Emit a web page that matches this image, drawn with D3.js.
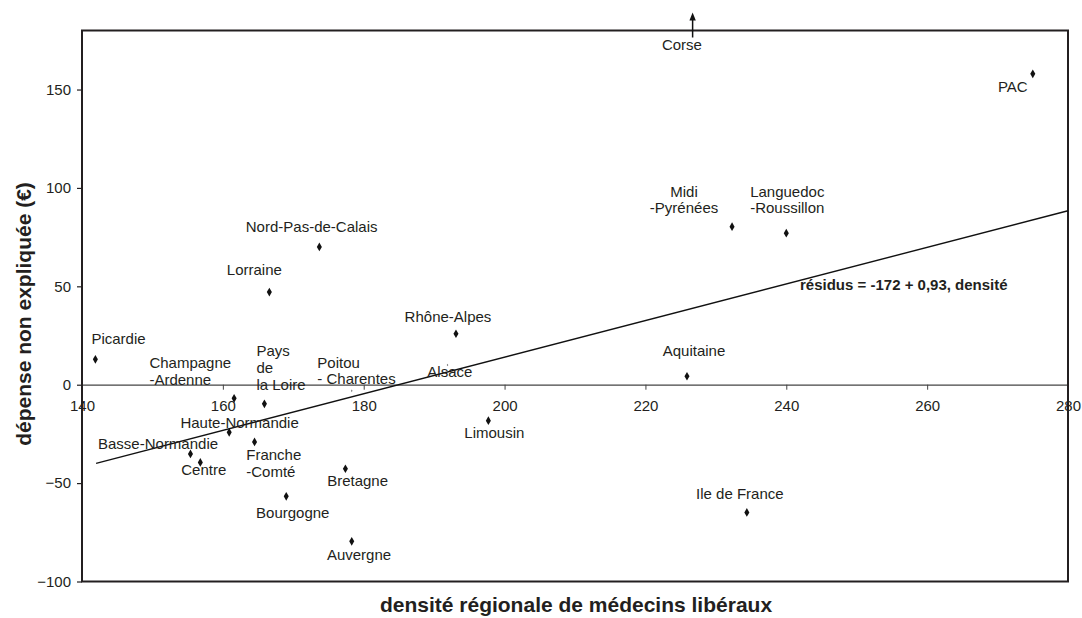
<!DOCTYPE html>
<html>
<head>
<meta charset="utf-8">
<script src="https://cdn.jsdelivr.net/npm/d3@7"></script>
<style>
  html, body { margin: 0; padding: 0; background: #ffffff; }
  svg { display: block; font-family: "Liberation Sans", Arial, Helvetica, sans-serif; }
</style>
</head>
<body>
<svg id="chart" width="1082" height="618"></svg>
<script>
// ---------------- DATA ----------------
const regions = [
  "Picardie", "Champagne-Ardenne", "Pays de la Loire", "Nord-Pas-de-Calais", "Lorraine",
  "Poitou-Charentes", "Alsace", "Rhône-Alpes", "Aquitaine", "Midi-Pyrénées",
  "Languedoc-Roussillon", "PAC", "Corse", "Haute-Normandie", "Basse-Normandie",
  "Centre", "Franche-Comté", "Bretagne", "Bourgogne", "Auvergne", "Limousin", "Ile de France"
];
// densité régionale de médecins libéraux
const densite = [
  141.9, 161.6, 165.9, 173.7, 166.6,
  178.3, 191.9, 193.1, 225.9, 232.3,
  240.0, 275.0, 226.7, 160.9, 155.4,
  156.8, 164.5, 177.4, 169.0, 178.3, 197.7, 234.4
];
// dépense non expliquée (€)  (Corse is off the top of the chart)
const depense = [
  12.9, -6.9, -9.7, 70.0, 47.1,
  -3.1, 10.0, 25.9, 4.3, 80.3,
  77.0, 158.0, 200, -24.2, -35.2,
  -39.5, -29.1, -42.7, -56.7, -79.6, -18.3, -64.9
];
// text of each label (one entry per line)
const labelText = [
  ["Picardie"], ["Champagne", "-Ardenne"], ["Pays", "de", "la Loire"], ["Nord-Pas-de-Calais"], ["Lorraine"],
  ["Poitou", "- Charentes"], ["Alsace"], ["Rhône-Alpes"], ["Aquitaine"], ["Midi", "-Pyrénées"],
  ["Languedoc", "-Roussillon"], ["PAC"], ["Corse"], ["Haute-Normandie"], ["Basse-Normandie"],
  ["Centre"], ["Franche", "-Comté"], ["Bretagne"], ["Bourgogne"], ["Auvergne"], ["Limousin"], ["Ile de France"]
];
const xTicks = [140, 160, 180, 200, 220, 240, 260, 280];
const yTicks = [-100, -50, 0, 50, 100, 150];
const xDomain = [140, 280];
const yDomain = [-100, 180];
const regIntercept = -172;
const regSlope = 0.93;
const regFrom = 142;
const regTo = 280;
const regLabel = "résidus = -172 + 0,93, densité";
const xTitle = "densité régionale de médecins libéraux";
const yTitle = "dépense non expliquée (€)";

// ---------------- LAYOUT (label placement relative to point) ----------------
const labelLayout = {
  "Picardie":            { dx: -4,    dy: -15.3, anchor: "start" },
  "Champagne-Ardenne":   { dx: -84.7, dy: -30,   anchor: "start" },
  "Pays de la Loire":    { dx: -8,    dy: -47.7, anchor: "start" },
  "Nord-Pas-de-Calais":  { dx: -7.7,  dy: -14.7, anchor: "middle" },
  "Lorraine":            { dx: -15,   dy: -17,   anchor: "middle" },
  "Poitou-Charentes":    { dx: -34.4, dy: -23.2, anchor: "start" },
  "Alsace":              { dx: 2.3,   dy: 12.3,  anchor: "middle" },
  "Rhône-Alpes":         { dx: -8,    dy: -12,   anchor: "middle" },
  "Aquitaine":           { dx: 7,     dy: -20.3, anchor: "middle" },
  "Midi-Pyrénées":       { dx: -48,   dy: -30,   anchor: "middle" },
  "Languedoc-Roussillon":{ dx: 1,     dy: -36.6, anchor: "middle" },
  "PAC":                 { dx: -20,   dy: 18.7,  anchor: "middle" },
  "Corse":               { dx: -10.7, dy: 19.5,  anchor: "middle" },
  "Haute-Normandie":     { dx: 10.4,  dy: -4,    anchor: "middle" },
  "Basse-Normandie":     { dx: -32.4, dy: -5,    anchor: "middle" },
  "Centre":              { dx: 3.4,   dy: 12.7,  anchor: "middle" },
  "Franche-Comté":       { dx: -8.3,  dy: 18,    anchor: "start" },
  "Bretagne":            { dx: 12.2,  dy: 17.3,  anchor: "middle" },
  "Bourgogne":           { dx: 6.5,   dy: 22,    anchor: "middle" },
  "Auvergne":            { dx: 7.3,   dy: 18.7,  anchor: "middle" },
  "Limousin":            { dx: 6,     dy: 17.6,  anchor: "middle" },
  "Ile de France":       { dx: -7,    dy: -13.3, anchor: "middle" }
};
// points whose marker is mostly hidden under their label in the reference
const faintPoints = ["Poitou-Charentes", "Alsace"];

// ---------------- CHART ----------------
const W = 1082, H = 618;
const plot = { left: 82, right: 1068, top: 30.5, bottom: 581.5 };
const ink = "#231f20";
const fontStack = "'Liberation Sans', Arial, sans-serif";

const svg = d3.select("#chart");
const x = d3.scaleLinear().domain(xDomain).range([plot.left, plot.right]);
const y = d3.scaleLinear().domain(yDomain).range([plot.bottom, plot.top]);

const data = regions.map((r, i) => ({ name: r, x: densite[i], y: depense[i], lines: labelText[i] }));

// x axis on the zero line
const xAxis = d3.axisBottom(x).tickValues(xTicks).tickSize(5).tickSizeOuter(0).tickPadding(11);
const gx = svg.append("g").attr("transform", `translate(0,${y(0)})`).call(xAxis);
gx.select(".domain").attr("stroke", "#444").attr("stroke-width", 1.2);
gx.selectAll(".tick line").attr("stroke", "#444");
gx.selectAll(".tick text").attr("fill", ink).style("font-size", "15px").style("font-family", fontStack);

// y axis
const yAxis = d3.axisLeft(y).tickValues(yTicks).tickSize(5).tickSizeOuter(0).tickPadding(6);
const gy = svg.append("g").attr("transform", `translate(${plot.left},0)`).call(yAxis);
gy.select(".domain").remove();
gy.selectAll(".tick line").attr("stroke", ink).attr("stroke-width", 1.2);
gy.selectAll(".tick text").attr("fill", ink).style("font-size", "15px").style("font-family", fontStack);

// plot frame
svg.append("rect")
  .attr("x", plot.left).attr("y", plot.top)
  .attr("width", plot.right - plot.left).attr("height", plot.bottom - plot.top)
  .attr("fill", "none").attr("stroke", ink).attr("stroke-width", 2);

// regression line
svg.append("line")
  .attr("x1", x(regFrom)).attr("y1", y(regIntercept + regSlope * regFrom))
  .attr("x2", x(regTo)).attr("y2", y(regIntercept + regSlope * regTo))
  .attr("stroke", "#111").attr("stroke-width", 1.4);

svg.append("text")
  .attr("x", x(regTo) - 268).attr("y", y(regIntercept + regSlope * regTo) + 79)
  .attr("fill", ink).style("font-size", "15px").style("font-weight", "bold")
  .text(regLabel);

// points
const inside = data.filter(d => d.y <= yDomain[1]);
const outside = data.filter(d => d.y > yDomain[1]);

svg.append("g").selectAll("path").data(inside).join("path")
  .attr("transform", d => `translate(${x(d.x)},${y(d.y)})`)
  .attr("d", d => d3.symbol().type(d3.symbolDiamond).size(faintPoints.includes(d.name) ? 2 : 22)())
  .attr("fill", d => faintPoints.includes(d.name) ? "#777" : "#111");

// off-scale point: arrow at the top
const arrowG = svg.append("g");
outside.forEach(d => {
  const ax = x(d.x);
  arrowG.append("line").attr("x1", ax).attr("x2", ax)
    .attr("y1", plot.top + 7).attr("y2", plot.top - 12)
    .attr("stroke", "#111").attr("stroke-width", 1.5);
  arrowG.append("path")
    .attr("d", `M${ax},${plot.top - 18} L${ax - 3.2},${plot.top - 10} L${ax + 3.2},${plot.top - 10} Z`)
    .attr("fill", "#111");
});

// labels
const lineH = 16.7;
const lab = svg.append("g").style("font-size", "15px").attr("fill", ink);
data.forEach(d => {
  const L = labelLayout[d.name];
  const px = x(d.x);
  const py = d.y > yDomain[1] ? plot.top : y(d.y);
  const t = lab.append("text").attr("text-anchor", L.anchor);
  d.lines.forEach((ln, k) => {
    t.append("tspan").attr("x", px + L.dx).attr("y", py + L.dy + k * lineH).text(ln);
  });
});

// axis titles
svg.append("text")
  .attr("x", (plot.left + plot.right) / 2 + 1).attr("y", 612)
  .attr("text-anchor", "middle").attr("fill", ink)
  .style("font-size", "21px").style("font-weight", "bold")
  .text(xTitle);

svg.append("text")
  .attr("transform", `translate(31,${314}) rotate(-90)`)
  .attr("text-anchor", "middle").attr("fill", ink)
  .style("font-size", "21px").style("font-weight", "bold")
  .text(yTitle);
</script>
</body>
</html>
